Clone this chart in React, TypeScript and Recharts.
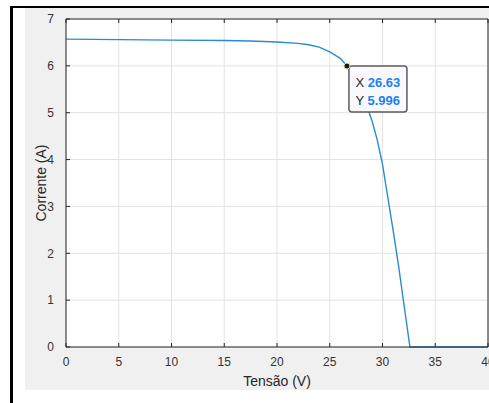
import React from 'react';
import { LineChart, Line, XAxis, YAxis, CartesianGrid, ReferenceDot } from 'recharts';

const voltage = [0, 5, 10, 15, 17.5, 20, 22, 23, 24, 25, 26, 26.63, 27, 27.5, 28, 28.5, 29, 29.5, 30, 30.5, 31, 31.5, 32, 32.6, 36, 40];
const current = [6.57, 6.56, 6.55, 6.54, 6.53, 6.51, 6.48, 6.45, 6.4, 6.3, 6.16, 5.996, 5.88, 5.68, 5.45, 5.16, 4.83, 4.42, 3.9, 3.2, 2.5, 1.77, 0.96, 0, 0, 0];
const xTicks = [0, 5, 10, 15, 20, 25, 30, 35, 40];
const yTicks = [0, 1, 2, 3, 4, 5, 6, 7];
const tipX = 26.63;
const tipY = 5.996;
const xLabel = 'Tensão (V)';
const yLabel = 'Corrente (A)';

const data = voltage.map((v, i) => ({ v, i: current[i] }));

const FONT = '"Liberation Sans", Arial, Helvetica, sans-serif';
const AXIS = '#262626';

const TipShape = (props: any) => {
  const { cx, cy } = props;
  return (
    <g>
      <rect x={cx + 2} y={cy} width={58} height={46} rx={3} ry={3} fill="#f9f9fd" stroke="#5c5c5c" strokeWidth={1.5} />
      <text x={cx + 8.5} y={cy + 20.5} fontSize={13} fontFamily={FONT} fill="#262626">
        X <tspan fill="#1a82f5" fontWeight="bold">{tipX.toFixed(2)}</tspan>
      </text>
      <text x={cx + 8.5} y={cy + 38.5} fontSize={13} fontFamily={FONT} fill="#262626">
        Y <tspan fill="#1a82f5" fontWeight="bold">{tipY.toFixed(3)}</tspan>
      </text>
      <circle cx={cx} cy={cy} r={3} fill="#1a1a1a" stroke="#e6e2a0" strokeWidth={1} />
    </g>
  );
};

const YLabel = (props: any) => {
  const vb = props.viewBox;
  const x = vb.x + 15;
  const y = vb.y + vb.height / 2;
  return (
    <text x={x} y={y} transform={`rotate(-90, ${x}, ${y})`} textAnchor="middle" dominantBaseline="central" fontSize={14} fontFamily={FONT} fill="#262626">
      {yLabel}
    </text>
  );
};

const Empty = () => <g />;

export default function App() {
  return (
    <div style={{ position: 'absolute', left: 0, top: 0, width: 489, height: 403, background: '#fff', overflow: 'hidden' }}>
      <div style={{ position: 'absolute', left: 10, top: 6, width: 479, height: 2, background: '#000' }} />
      <div style={{ position: 'absolute', left: 10, top: 6, width: 3, height: 397, background: '#000' }} />
      <div style={{ position: 'absolute', left: 25, top: 8, width: 464, height: 382, background: '#f0f0f0' }} />
      <div style={{ position: 'absolute', left: 0, top: 0 }}>
        <LineChart width={489} height={403} data={data} margin={{ top: 18, right: 0, bottom: 26, left: 26 }}>
          <CartesianGrid xAxisId="bottom" yAxisId="left" stroke="#e2e2e2" fill="#ffffff" />
          <XAxis
            xAxisId="bottom"
            dataKey="v"
            type="number"
            domain={[0, 40]}
            ticks={xTicks}
            interval={0}
            height={30}
            stroke={AXIS}
            tickSize={-4}
            tickMargin={14}
            tick={{ fontSize: 12, fontFamily: FONT, fill: '#333' }}
            tickLine={{ stroke: AXIS }}
            allowDataOverflow
            label={{ value: xLabel, position: 'bottom', offset: -1, fontSize: 14, fontFamily: FONT, fill: '#262626' }}
          />
          <XAxis
            xAxisId="top"
            orientation="top"
            dataKey="v"
            type="number"
            domain={[0, 40]}
            ticks={xTicks}
            interval={0}
            height={1}
            stroke={AXIS}
            tickSize={-4}
            tick={Empty}
            tickLine={{ stroke: AXIS }}
          />
          <YAxis
            yAxisId="left"
            type="number"
            domain={[0, 7]}
            ticks={yTicks}
            interval={0}
            width={40}
            stroke={AXIS}
            tickSize={-4}
            tickMargin={16}
            tick={{ fontSize: 12, fontFamily: FONT, fill: '#333' }}
            tickLine={{ stroke: AXIS }}
            label={<YLabel />}
          />
          <YAxis
            yAxisId="right"
            orientation="right"
            type="number"
            domain={[0, 7]}
            ticks={yTicks}
            interval={0}
            width={1}
            stroke={AXIS}
            tickSize={-4}
            tick={Empty}
            tickLine={{ stroke: AXIS }}
          />
          <Line
            xAxisId="bottom"
            yAxisId="left"
            type="linear"
            dataKey="i"
            stroke="#2a8ad2"
            strokeWidth={1.4}
            dot={false}
            isAnimationActive={false}
          />
          <ReferenceDot xAxisId="bottom" yAxisId="left" x={tipX} y={tipY} r={3} shape={TipShape} />
        </LineChart>
      </div>
    </div>
  );
}
